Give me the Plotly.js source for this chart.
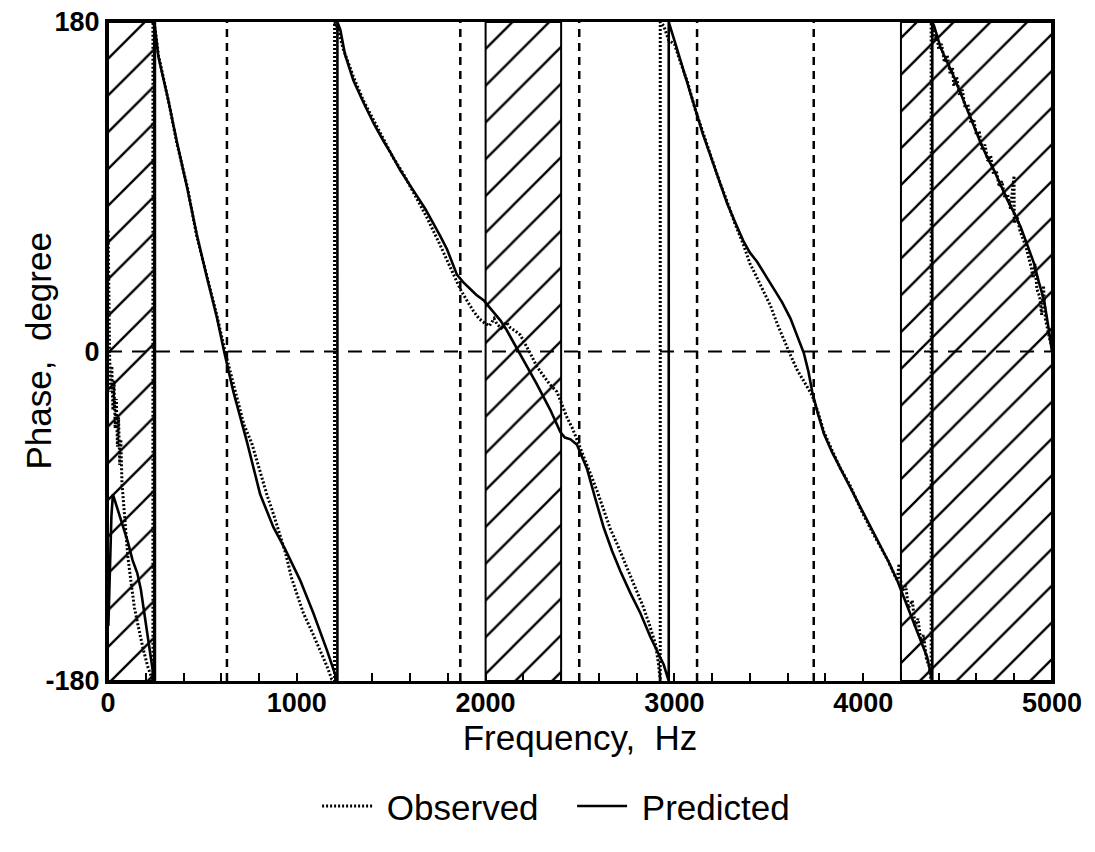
<!DOCTYPE html>
<html><head><meta charset="utf-8">
<script src="https://cdn.plot.ly/plotly-3.0.1.min.js"></script>
<style>html,body{margin:0;padding:0;background:#fff}</style>
</head><body><div id="chart" style="width:1095px;height:852px"></div>
<script>
// Predicted phase (solid)
const predFreq = [2,10,18,26,50,78,105,130,155,174,195,217,232,245,
  245,267,320,364,420,470,525,576,615,664,735,806,876,938,1018,1088,1159,1208,1215,
  1215,1230,1256,1300,1353,1410,1459,1500,1548,1590,1636,1680,1724,1760,1795,1825,1848,1880,1919,1950,1989,2030,2078,2110,2148,2201,2272,2343,2396,2420,2450,2484,2537,2580,2625,2670,2714,2767,2820,2873,2920,2943,2970,
  2970,3000,3032,3070,3111,3150,3191,3235,3279,3320,3367,3400,3438,3480,3527,3570,3615,3650,3686,3710,3730,3760,3792,3835,3880,3930,3986,4040,4092,4135,4180,4233,4286,4339,4366,
  4366,4375,4410,4445,4481,4516,4551,4586,4622,4657,4693,4728,4763,4798,4834,4870,4905,4930,4958,4980,5000];
const predPhase = [-150,-120,-90,-78,-86,-94,-104,-114,-121,-130,-145,-161,-172,-180,
  180,161,137,115,89,64,40,19,0,-22,-49,-78,-96,-108,-125,-143,-163,-178,-180,
  180,176,162,148,136,124,115,108,99,92,85,78,70,63,56,48,42,38,34,31,28,23,17,12,5,-5,-18,-32,-44,-47,-48,-51,-64,-80,-96,-109,-120,-132,-143,-156,-166,-171,-180,
  180,170,159,146,131,119,107,94,81,71,60,54,49,42,34,27,18,9,-1,-11,-22,-34,-45,-55,-64,-74,-85,-96,-106,-115,-125,-139,-153,-167,-180,
  180,178,166,158,150,141,132,123,114,106,99,91,83,76,68,58,48,38,28,14,0];

// Observed phase (dotted)
const obsFreq = [1,4,8,14,20,26,32,38,44,50,56,62,68,74,82,92,105,122,140,160,185,210,232,238,
  238,250,267,320,364,420,470,525,576,620,655,682,720,761,800,841,880,912,940,973,1005,1035,1080,1124,1160,1185,1200,
  1200,1215,1247,1300,1353,1410,1459,1510,1565,1610,1654,1690,1724,1760,1795,1830,1866,1900,1936,1965,1989,2020,2045,2060,2090,2110,2131,2160,2184,2210,2237,2270,2307,2340,2378,2400,2431,2460,2484,2510,2537,2560,2590,2625,2661,2700,2749,2790,2837,2870,2900,2915,2925,
  2925,2943,2970,3000,3032,3070,3111,3150,3191,3235,3279,3320,3367,3400,3420,3465,3509,3545,3580,3615,3650,3680,3703,3730,3760,3792,3835,3880,3930,3986,4040,4092,4135,4160,4180,4190,4205,4225,4240,4260,4275,4290,4305,4320,4335,4350,4360,
  4360,4370,4380,4390,4400,4415,4430,4445,4460,4473,4480,4495,4510,4525,4540,4555,4570,4585,4600,4615,4630,4645,4660,4675,4690,4705,4720,4735,4750,4765,4780,4799,4800,4815,4830,4845,4860,4875,4890,4900,4910,4920,4935,4945,4955,4965,4975,4985,5000];
const obsPhase = [66,30,0,-22,-8,-32,-16,-42,-26,-52,-36,-62,-48,-72,-82,-98,-112,-126,-140,-150,-162,-172,-178,-180,
  180,176,162,137,114,90,63,41,20,0,-14,-24,-40,-50,-64,-78,-90,-100,-110,-124,-134,-143,-153,-163,-172,-179,-180,
  180,177,165,150,137,126,116,106,97,88,80,73,66,58,50,42,34,28,22,18,16,14,18,15,12,16,13,11,9,4,-1,-8,-13,-18,-22,-28,-36,-42,-48,-55,-62,-68,-76,-86,-97,-106,-118,-128,-140,-150,-160,-170,-180,
  180,178,170,168,158,147,132,120,108,94,82,70,58,48,44,34,25,15,6,-2,-10,-15,-19,-24,-33,-44,-54,-64,-73,-86,-97,-107,-115,-121,-125,-116,-131,-128,-140,-136,-150,-146,-158,-155,-168,-172,-180,
  180,176,170,173,165,168,158,162,152,155,145,150,140,143,133,135,125,127,118,120,110,113,104,107,97,99,90,93,84,86,78,96,70,74,66,62,58,52,46,40,48,34,30,20,36,18,12,8,2];

// Hatched (excluded) frequency bands
const hatchStart = [0, 2000, 4200];
const hatchEnd = [250, 2400, 5000];
// Dashed reference frequencies
const refFreq = [630, 1866, 2496, 3120, 3738];
// Ticks
const xTickVals = [0, 1000, 2000, 3000, 4000, 5000];
const xTickText = ['0', '1000', '2000', '3000', '4000', '5000'];
const yTickVals = [-180, 0, 180];
const yTickText = ['-180', '0', '180'];

const FONT = 'Liberation Sans, Arial, Helvetica, sans-serif';
const NB = '\u00a0';
const traces = [];
for (let i = 0; i < hatchStart.length; i++) {
  traces.push({
    x: [hatchStart[i], hatchEnd[i], hatchEnd[i], hatchStart[i], hatchStart[i]],
    y: [-180, -180, 180, 180, -180],
    mode: 'lines', fill: 'toself', fillcolor: '#ffffff',
    fillpattern: {shape: '/', size: 26, solidity: 0.09, fgcolor: '#000000', bgcolor: '#ffffff'},
    line: {color: '#000', width: 2},
    showlegend: false, hoverinfo: 'skip'
  });
}
traces.push({
  x: [0, 5000], y: [0, 0], mode: 'lines',
  line: {color: '#000', width: 2, dash: '14px,10px'},
  showlegend: false, hoverinfo: 'skip'
});
traces.push({
  name: NB + 'Observed', x: obsFreq, y: obsPhase, mode: 'lines',
  line: {color: '#000', width: 3, dash: '2px,2px'}
});
traces.push({
  name: NB + 'Predicted', x: predFreq, y: predPhase, mode: 'lines',
  line: {color: '#000', width: 2.6}
});

const shapes = refFreq.map(f => ({
  type: 'line', xref: 'x', yref: 'y', x0: f, x1: f, y0: -180, y1: 180,
  line: {color: '#000', width: 2.5, dash: '8px,6px'}, layer: 'above'
}));

const layout = {
  width: 1095, height: 852,
  margin: {l: 108, r: 43, t: 22, b: 171},
  paper_bgcolor: '#fff', plot_bgcolor: '#fff',
  showlegend: true,
  legend: {orientation: 'h', x: 0.2215, xanchor: 'left', y: -0.19, yanchor: 'middle',
           font: {family: FONT, size: 35, color: '#000'}, entrywidth: 190, itemwidth: 50},
  xaxis: {
    range: [0, 5000], tickvals: xTickVals, ticktext: xTickText,
    ticks: 'inside', ticklen: 8, tickwidth: 2, tickcolor: '#000',
    minor: {dtick: 200, ticks: 'inside', ticklen: 8, tickwidth: 2, tickcolor: '#000', showgrid: false},
    showline: true, linewidth: 3, linecolor: '#000', mirror: true,
    showgrid: false, zeroline: false, ticklabelstandoff: -4,
    tickfont: {family: FONT, size: 27, color: '#000', weight: 'bold'},
    title: {text: 'Frequency,  Hz', font: {family: FONT, size: 35, color: '#000'}, standoff: 6}
  },
  yaxis: {
    range: [-180, 180], tickvals: yTickVals, ticktext: yTickText,
    ticks: '', showline: true, linewidth: 3, linecolor: '#000', mirror: true,
    showgrid: false, zeroline: false,
    tickfont: {family: FONT, size: 27, color: '#000', weight: 'bold'}
  },
  annotations: [{
    text: 'Phase,  degree', xref: 'paper', yref: 'paper',
    x: (38 - 108) / 944, y: 0.5, xanchor: 'center', yanchor: 'middle',
    textangle: -90, showarrow: false,
    font: {family: FONT, size: 35, color: '#000'}
  }],
  shapes: shapes
};
Plotly.newPlot('chart', traces, layout, {displayModeBar: false, staticPlot: true});
</script></body></html>
